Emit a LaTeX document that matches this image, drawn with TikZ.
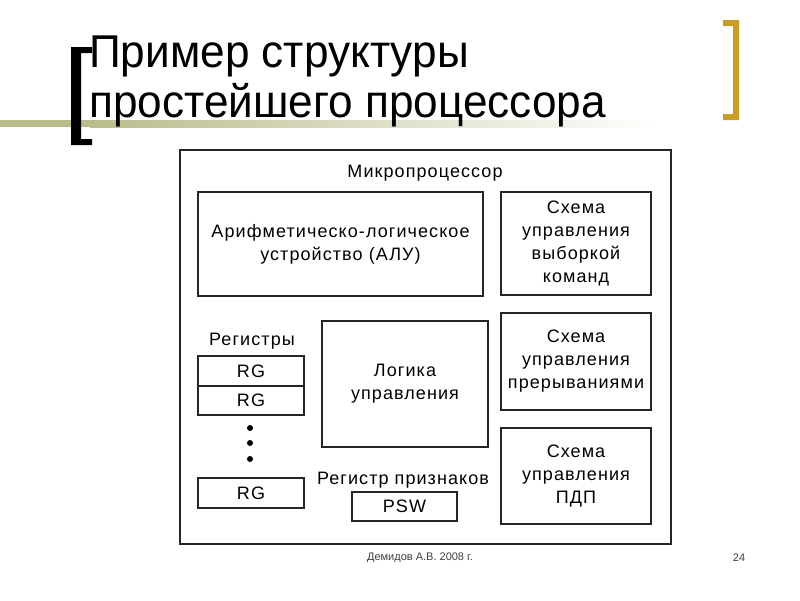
\documentclass[tikz,border=0pt]{standalone}
\usepackage{fontspec}
\setmainfont{Liberation Sans}
\newfontfamily\boxfont[LetterSpace=6]{Liberation Sans}
\newfontfamily\titlefont[FakeStretch=0.96]{Liberation Sans}
\definecolor{barolive}{RGB}{186,188,140}
\definecolor{bracketgold}{RGB}{200,158,36}
\tikzset{
  blk/.style={draw=black!85, line width=1.8pt, inner sep=0pt, align=center,
    font=\boxfont\fontsize{18}{23}\selectfont},
  lbl/.style={inner sep=0pt, font=\boxfont\fontsize{18}{23}\selectfont},
  ttl/.style={anchor=base west, inner sep=0pt, font=\titlefont\fontsize{46}{55}\selectfont}
}
\begin{document}
\begin{tikzpicture}[x=1pt,y=-1pt]
        \useasboundingbox (0,0) rectangle (800,600);
        % title bar and brackets
        \fill[barolive] (0,120) rectangle (90,127);
        \shade[left color=barolive, right color=white] (90,120) rectangle (660,127);
        \fill (71,47) -- (92,47) -- (92,53) -- (81,53) -- (81,139) -- (92,139) -- (92,145) -- (71,145) -- cycle;
        \fill[bracketgold] (723,20) -- (739,20) -- (739,120) -- (723,120) -- (723,114) -- (733,114) -- (733,26) -- (723,26) -- cycle;
        % title
        \node[ttl] (title1) at (89,67) {Пример структуры};
        \node[ttl] (title2) at (89,117) {простейшего процессора};
        % microprocessor
        \node[blk, minimum width=491, minimum height=394] (mp) at (425.5,347) {};
        \node[lbl] (mplbl) at (425,173) {Микропроцессор};
        % blocks
        \node[blk, minimum width=285, minimum height=104] (alu) at (340.5,244) {Арифметическо-логическое\\устройство (АЛУ)};
        \node[blk, minimum width=150, minimum height=103] (fetch) at (576,243.5) {Схема\\управления\\выборкой\\команд};
        \node[blk, minimum width=166, minimum height=126] (logic) at (405,384) {Логика\\управления};
        \node[blk, minimum width=150, minimum height=97] (irq) at (576,361.5) {Схема\\управления\\прерываниями};
        \node[blk, minimum width=150, minimum height=96] (dma) at (576,476) {Схема\\управления\\ПДП};
        % registers
        \node[lbl] (reglbl) at (252,341) {Регистры};
        \node[blk, minimum width=106, minimum height=30] (rg1) at (251,371) {RG};
        \node[blk, minimum width=106, minimum height=29] (rg2) at (251,400.5) {RG};
        \node[blk, minimum width=106, minimum height=30] (rgn) at (251,493) {RG};
        \foreach \y/\n in {428/a,443/b,459/c}
            \node[circle, fill, inner sep=0pt, minimum size=6] (dot\n) at (250,\y) {};
        % flags
        \node[lbl] (pswlbl) at (403,480) {Регистр признаков};
        \node[blk, minimum width=105, minimum height=29] (psw) at (404.5,506.5) {PSW};
        % footer
        \node[font=\fontsize{11}{13}\selectfont, text=black!75] (author) at (420,558) {Демидов А.В. 2008 г.};
        \node[font=\fontsize{11}{13}\selectfont, text=black!75] (page) at (739,558) {24};
\end{tikzpicture}
\end{document}
